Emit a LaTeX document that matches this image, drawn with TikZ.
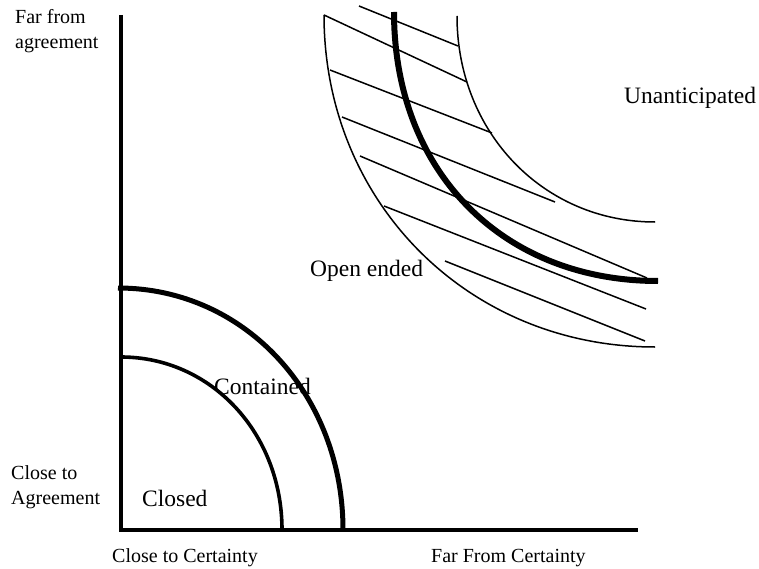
\documentclass[tikz,border=0pt]{standalone}
\usepackage{fontspec}
\setmainfont{Liberation Serif}
\begin{document}
\begin{tikzpicture}[x=1pt,y=-1pt,
  axisline/.style={line width=4.5pt},
  thinline/.style={line width=1.5pt},
  heavyarc/.style={line width=6pt},
  biglabel/.style={inner sep=0pt, font=\fontsize{23.5}{28}\selectfont},
  smalllabel/.style={inner sep=0pt, font=\fontsize{20}{25}\selectfont, align=left}]
\useasboundingbox (0,0) rectangle (759,569);

% axes
\coordinate (ytop) at (121,15);
\coordinate (origin) at (121,530);
\coordinate (xend) at (638,530);
\draw[axisline] (ytop) -- (origin) -- (xend);

% closed and contained regions
\draw[line width=3.6pt] (121,357) .. controls (211,357) and (282,433) .. (282,530);
\draw[line width=5pt] (118,288) .. controls (245,288) and (343,395) .. (343,530);

% hatching of the open-ended band
\draw[thinline] (359,6) -- (458,46);
\draw[thinline] (324,15) -- (467,82);
\draw[thinline] (330,70) -- (492,133);
\draw[thinline] (342,117) -- (555,202);
\draw[thinline] (360,156) -- (647,278);
\draw[thinline] (384,206) -- (646,309);
\draw[thinline] (445,261) -- (645,341);

% band borders
\draw[thinline] (324,15) .. controls (324,202) and (468,347) .. (655,347);
\draw[thinline] (457,16) .. controls (457,132) and (543,222) .. (655,222);
\draw[heavyarc] (394,12) .. controls (394,171) and (502,281) .. (658,281);

% labels
\node[smalllabel, anchor=north west] (farAgree) at (15,9) {Far from\\agreement};
\node[smalllabel, anchor=north west] (closeAgree) at (11,465.5) {Close to\\Agreement};
\node[smalllabel, anchor=base west] (closeCert) at (112,562) {Close to Certainty};
\node[smalllabel, anchor=base west] (farCert) at (431,562) {Far From Certainty};
\node[biglabel, anchor=base west] (closed) at (142,506.5) {Closed};
\node[biglabel, anchor=base west] (contained) at (214,394) {Contained};
\node[biglabel, anchor=base west] (openEnded) at (310,276) {Open ended};
\node[biglabel, anchor=base west] (unanticipated) at (624,104) {Unanticipated};
\end{tikzpicture}
\end{document}
